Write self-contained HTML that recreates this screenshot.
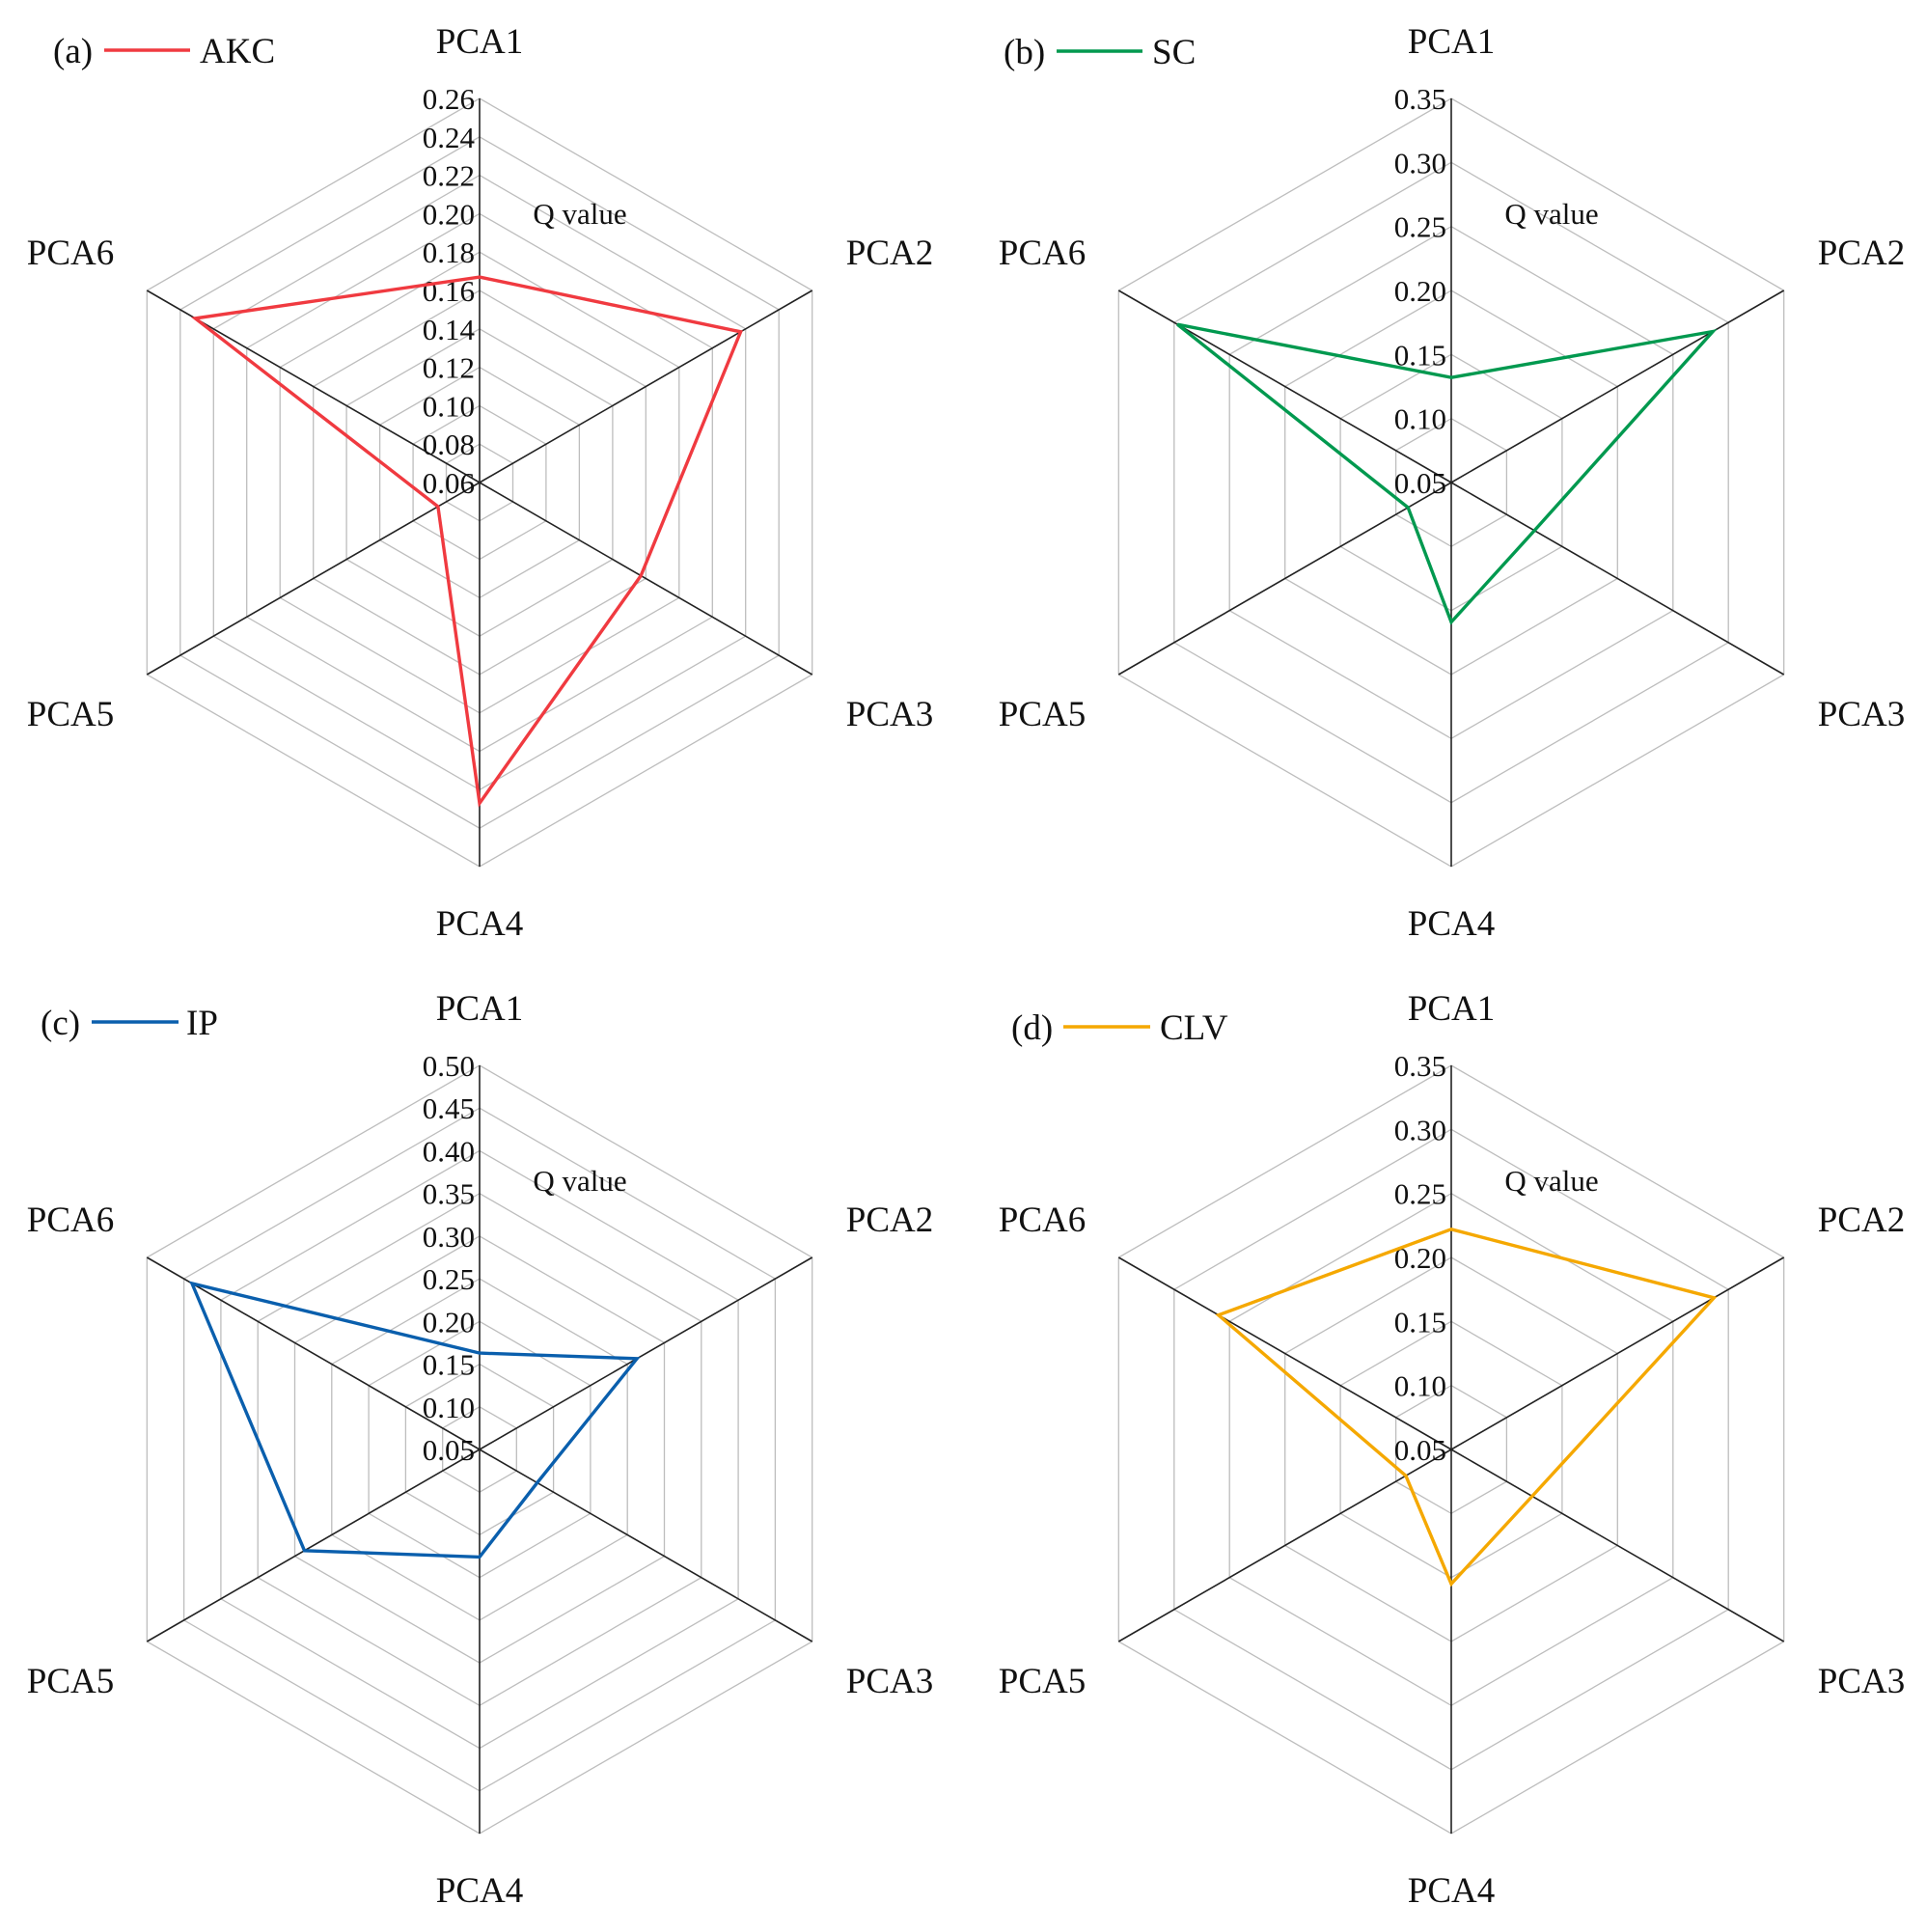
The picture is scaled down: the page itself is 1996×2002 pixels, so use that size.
<!DOCTYPE html>
<html><head><meta charset="utf-8">
<style>
html,body{margin:0;padding:0;background:#fff;}
svg{display:block;}
text{font-family:"Liberation Serif",serif;fill:#111;}
</style></head>
<body>
<svg id="chart" width="1996" height="2002" viewBox="0 0 1996 2002" xmlns="http://www.w3.org/2000/svg"></svg>
<script>
const categories = ["PCA1","PCA2","PCA3","PCA4","PCA5","PCA6"];
const akcValues = [0.167,0.217,0.157,0.227,0.085,0.231];
const scValues = [0.132,0.286,0.125,0.159,0.089,0.297];
const ipValues = [0.163,0.263,0.128,0.176,0.287,0.439];
const clvValues = [0.222,0.287,0.123,0.155,0.091,0.260];
const akcTicks = ["0.06","0.08","0.10","0.12","0.14","0.16","0.18","0.20","0.22","0.24","0.26"];
const scTicks = ["0.05","0.10","0.15","0.20","0.25","0.30","0.35"];
const ipTicks = ["0.05","0.10","0.15","0.20","0.25","0.30","0.35","0.40","0.45","0.50"];
const clvTicks = ["0.05","0.10","0.15","0.20","0.25","0.30","0.35"];

const NS="http://www.w3.org/2000/svg";
const svg=document.getElementById('chart');
const R=398;
function mk(tag,attrs,parent){const e=document.createElementNS(NS,tag);for(const k in attrs)e.setAttribute(k,attrs[k]);(parent||svg).appendChild(e);return e;}

const panels=[
 {id:'a',cx:497,cy:500,vals:akcValues,ticks:akcTicks,color:'#f03a40',name:'AKC',lx:55,ly:52,l1:108,l2:197,nx:207},
 {id:'b',cx:1504,cy:500,vals:scValues,ticks:scTicks,color:'#00994f',name:'SC',lx:1040,ly:53,l1:1095,l2:1184,nx:1194},
 {id:'c',cx:497,cy:1502,vals:ipValues,ticks:ipTicks,color:'#0a5fad',name:'IP',lx:42,ly:1059,l1:95,l2:185,nx:193},
 {id:'d',cx:1504,cy:1502,vals:clvValues,ticks:clvTicks,color:'#f5a800',name:'CLV',lx:1048,ly:1064,l1:1102,l2:1192,nx:1202}
];

function angle(i){return -Math.PI/2+i*Math.PI/3;}

panels.forEach(p=>{
  const g=mk('g',{});
  
  
  const tmin=parseFloat(p.ticks[0]), tmax=parseFloat(p.ticks[p.ticks.length-1]);
  const n=p.ticks.length-1;
  const rScale=v=>(v-tmin)/(tmax-tmin)*R;
  const pt=(i,r)=>[p.cx+r*Math.cos(angle(i)),p.cy+r*Math.sin(angle(i))];
  for(let k=1;k<=n;k++){
    const r=rScale(parseFloat(p.ticks[k]));
    const pts=categories.map((c,i)=>pt(i,r).map(v=>v.toFixed(1)).join(',')).join(' ');
    const ring=mk('polygon',{points:pts,fill:'none',stroke:'#bdbdbd','stroke-width':1.3},g);
    
    
  }
  categories.forEach((c,i)=>{
    const [x,y]=pt(i,R);
    const ax=mk('line',{x1:p.cx,y1:p.cy,x2:x,y2:y,stroke:'#222','stroke-width':1.6},g);
    
    
  });
  const lpos=[[0,-458],[425,-239],[425,239],[0,456],[-424,239],[-424,-239]];
  categories.forEach((c,i)=>{
    const t=mk('text',{x:p.cx+lpos[i][0],y:p.cy+lpos[i][1]+13,'text-anchor':'middle','font-size':37},g);
    t.textContent=c;
    
    
  });
  p.ticks.forEach((tk,k)=>{
    const r=rScale(parseFloat(tk));
    const t=mk('text',{x:p.cx-5,y:p.cy-r+11,'text-anchor':'end','font-size':31},g);
    t.textContent=tk;
    
    
  });
  const q=mk('text',{x:p.cx+104,y:p.cy-268,'text-anchor':'middle','font-size':31},g);
  q.textContent='Q value';
  
  
  const pts=p.vals.map((v,i)=>pt(i,rScale(v)).map(x=>x.toFixed(1)).join(',')).join(' ');
  const s=mk('polygon',{points:pts,fill:'none',stroke:p.color,'stroke-width':3.4,'stroke-linejoin':'miter'},g);
  
  
  const lt=mk('text',{x:p.lx,y:p.ly+13,'font-size':37},g);
  lt.textContent='('+p.id+')';
  
  
  const ll=mk('line',{x1:p.l1,y1:p.ly,x2:p.l2,y2:p.ly,stroke:p.color,'stroke-width':3.4},g);
  
  
  const ln=mk('text',{x:p.nx,y:p.ly+13,'font-size':37},g);
  ln.textContent=p.name;
  
  
});
</script>
</body></html>
